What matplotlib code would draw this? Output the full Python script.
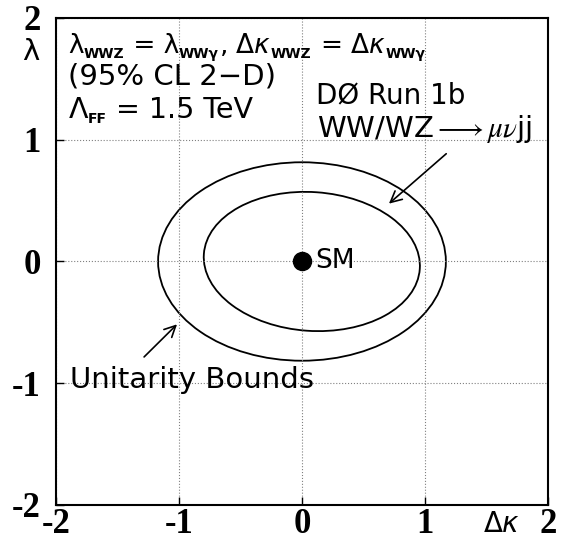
import matplotlib
matplotlib.use("Agg")
import matplotlib.pyplot as plt
from matplotlib.patches import Ellipse

# tick values
ticks = [-2, -1, 0, 1, 2]
tick_labels = ["-2", "-1", "0", "1", "2"]

# 95% CL contour (inner) and unitarity bound (outer): centre, width, height, angle
limit_centre = (0.08, 0.0)
limit_axes = (1.76, 1.14)
limit_angle = -4.0
unit_centre = (0.0, 0.0)
unit_axes = (2.34, 1.63)
unit_angle = 0.0

# standard model point
sm_x = [0.0]
sm_y = [0.0]

# header lines: (text, is_subscript)
coupling_line = [('λ', False), ('WWZ', True), (' = λ', False), ('WWγ', True),
                 (', Δ$\\kappa$', False), ('WWZ', True), (' = Δ$\\kappa$', False), ('WWγ', True)]
cutoff_line = [('Λ', False), ('FF', True), (' = 1.5 TeV', False)]

plt.rcParams['mathtext.fontset'] = 'dejavusans'
sans = 'DejaVu Sans'
serif = 'Liberation Serif'

fig = plt.figure(figsize=(5.74, 5.45), dpi=100)
ax = fig.add_axes([0.0976, 0.0734, 0.857, 0.8936])
ax.set_xlim(-2, 2)
ax.set_ylim(-2, 2)

ax.set_xticks(ticks)
ax.set_yticks(ticks)
ax.set_xticklabels(tick_labels, family=serif, weight='bold', fontsize=25)
ax.set_yticklabels(tick_labels, family=serif, weight='bold', fontsize=25)
ax.tick_params(direction='in', length=6, width=1, top=False, right=False)
ax.tick_params(axis='x', pad=2)
ax.tick_params(axis='y', pad=11)
ax.grid(True, linestyle=':', color='gray', linewidth=0.8)
for s in ax.spines.values():
    s.set_linewidth(1.5)

ax.add_patch(Ellipse(unit_centre, unit_axes[0], unit_axes[1], angle=unit_angle,
                     fill=False, edgecolor='black', linewidth=1.3))
ax.add_patch(Ellipse(limit_centre, limit_axes[0], limit_axes[1], angle=limit_angle,
                     fill=False, edgecolor='black', linewidth=1.3))
ax.plot(sm_x, sm_y, 'o', color='black', markersize=13)
ax.text(0.105, 0.0, 'SM', family=sans, fontsize=19, va='center', ha='left')


def chained_text(pieces, x, y, size, sub_size):
    # text with small bold subscripts, each piece placed after the previous one
    first = ax.text(x, y, pieces[0][0], family=sans, fontsize=size, va='bottom', ha='left')
    prev = first
    for txt, is_sub in pieces[1:]:
        prev = ax.annotate(txt, xy=(1, 0), xycoords=(prev, first),
                           xytext=(0, -1.5 if is_sub else 0), textcoords='offset points',
                           family=sans, fontsize=sub_size if is_sub else size,
                           weight='bold' if is_sub else 'normal', va='bottom', ha='left')


chained_text(coupling_line, -1.90, 1.66, 19, 10)
ax.text(-1.90, 1.52, '(95% CL 2\u2212D)', family=sans, fontsize=21, va='center', ha='left')
chained_text(cutoff_line, -1.90, 1.13, 20.5, 10)

ax.text(0.11, 1.36, 'D\u00d8 Run 1b', family=sans, fontsize=20, va='center', ha='left')
ax.text(0.12, 1.09, r'WW/WZ$\longrightarrow\mu\nu$jj', family=sans, fontsize=21,
        va='center', ha='left', math_fontfamily='stix')
ax.annotate('', xy=(0.69, 0.46), xytext=(1.19, 0.90),
            arrowprops=dict(arrowstyle='->', color='black', lw=1.2, mutation_scale=20))

ax.text(-1.89, -0.975, 'Unitarity Bounds', family=sans, fontsize=21, va='center', ha='left')
ax.annotate('', xy=(-1.0, -0.5), xytext=(-1.30, -0.80),
            arrowprops=dict(arrowstyle='->', color='black', lw=1.2, mutation_scale=20))

fig.text(0.054, 0.904, 'λ', family=sans, fontsize=21, ha='center', va='center')
fig.text(0.874, 0.038, r'$\Delta\kappa$', fontsize=20, ha='center', va='center')

fig.savefig('out.png', dpi=100)
